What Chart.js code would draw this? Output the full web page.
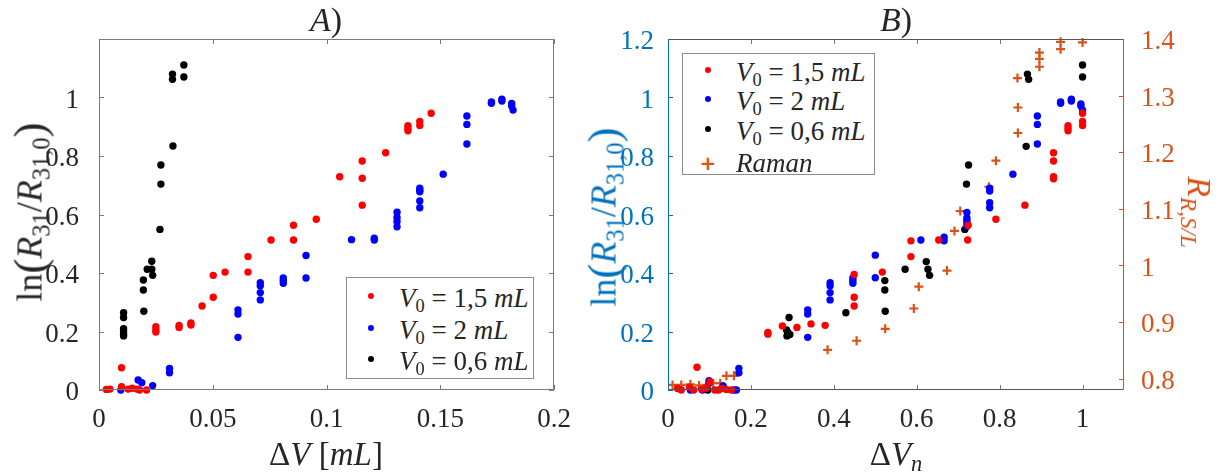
<!DOCTYPE html>
<html>
<head>
<meta charset="utf-8">
<script src="https://cdn.jsdelivr.net/npm/chart.js@4.4.1/dist/chart.umd.min.js"></script>
<style>
  html, body { margin: 0; padding: 0; background: #fff; }
  #wrap { position: relative; width: 1226px; height: 474px; overflow: hidden;
          font-family: 'Liberation Serif', serif; color: #262626; }
  canvas { position: absolute; top: 0; }
  .lbl { position: absolute; white-space: nowrap; line-height: 1; transform: translate(-50%, -50%); }
  .lbl.up { transform: translate(-50%, -50%) rotate(-90deg); }
  .lbl.down { transform: translate(-50%, -50%) rotate(90deg); }
  sub { font-size: 0.68em; vertical-align: -0.3em; line-height: 0; }
  .par { font-size: 1.25em; vertical-align: -0.06em; }
  .leg { position: absolute; border: 1px solid #8c8c8c; background: #fff; }
  .dot { position: absolute; width: 6px; height: 6px; border-radius: 50%; transform: translate(-50%, -50%); }
  .plus { position: absolute; color: #D95319; font: bold 20px 'DejaVu Sans', sans-serif; line-height: 1; transform: translate(-50%, -50%); }
  .lt { position: absolute; white-space: nowrap; font-size: 27px; line-height: 1; transform: translateY(-50%); }
</style>
</head>
<body>
<div id="wrap">
  <canvas id="chartA" width="600" height="474" style="left:0"></canvas>
  <canvas id="chartB" width="626" height="474" style="left:600px"></canvas>

  <div class="lbl" style="left:326px;top:20px;font-size:34px"><i>A</i>)</div>
  <div class="lbl" style="left:896px;top:20px;font-size:34px"><i>B</i>)</div>

  <div class="lbl up" style="left:30px;top:212px;font-size:36px">ln<span class="par">(</span><i>R</i><sub>31</sub>/<i>R</i><sub>31,0</sub><span class="par">)</span></div>
  <div class="lbl up" style="left:604px;top:217px;font-size:36px;color:#0072BD">ln<span class="par">(</span><i>R</i><sub>31</sub>/<i>R</i><sub>31,0</sub><span class="par">)</span></div>
  <div class="lbl down" style="left:1199px;top:212px;font-size:34px;color:#D95319"><i>R</i><sub><i>R,S/L</i></sub></div>

  <div class="lbl" style="left:326px;top:454px;font-size:33px">&Delta;<i>V</i> [<i>mL</i>]</div>
  <div class="lbl" style="left:896px;top:454px;font-size:33px">&Delta;<i>V</i><sub><i>n</i></sub></div>

  <div class="leg" style="left:346px;top:277px;width:186px;height:100px">
    <span class="dot" style="left:24px;top:18px;background:#ff0000"></span>
    <span class="lt" style="left:52px;top:20px"><i>V</i><sub>0</sub> = 1,5 <i>mL</i></span>
    <span class="dot" style="left:24px;top:50px;background:#0000ff"></span>
    <span class="lt" style="left:52px;top:52px"><i>V</i><sub>0</sub> = 2 <i>mL</i></span>
    <span class="dot" style="left:24px;top:81px;background:#000"></span>
    <span class="lt" style="left:52px;top:83px"><i>V</i><sub>0</sub> = 0,6 <i>mL</i></span>
  </div>

  <div class="leg" style="left:682px;top:53px;width:191px;height:120px">
    <span class="dot" style="left:25px;top:16px;background:#ff0000"></span>
    <span class="lt" style="left:53px;top:18px"><i>V</i><sub>0</sub> = 1,5 <i>mL</i></span>
    <span class="dot" style="left:25px;top:45px;background:#0000ff"></span>
    <span class="lt" style="left:53px;top:47px"><i>V</i><sub>0</sub> = 2 <i>mL</i></span>
    <span class="dot" style="left:25px;top:75px;background:#000"></span>
    <span class="lt" style="left:53px;top:77px"><i>V</i><sub>0</sub> = 0,6 <i>mL</i></span>
    <span class="plus" style="left:25px;top:109px">+</span>
    <span class="lt" style="left:53px;top:109px"><i>Raman</i></span>
  </div>
</div>

<script>
// ---- panel A: ln(R31/R31,0) vs dV [mL]
const A_RED_X = [0.0032,0.0048,0.0099,0.0099,0.0128,0.0146,0.0167,0.0178,0.0209,0.0250,0.0250,0.0250,0.0352,0.0352,0.0404,0.0404,0.0453,0.0502,0.0502,0.0554,0.0655,0.0655,0.0756,0.0855,0.0855,0.0955,0.1058,0.1157,0.1157,0.1157,0.1260,0.1358,0.1358,0.1358,0.1410,0.1410,0.1460];
const A_RED_Y = [0.002,0.003,0.076,0.011,0.003,0.006,0.003,0.000,0.000,0.216,0.205,0.198,0.221,0.214,0.229,0.222,0.287,0.317,0.392,0.403,0.456,0.403,0.513,0.563,0.513,0.584,0.729,0.783,0.724,0.632,0.811,0.904,0.895,0.886,0.918,0.904,0.946];
const A_BLUE_X = [0.0096,0.0172,0.0188,0.0236,0.0310,0.0310,0.0611,0.0611,0.0611,0.0709,0.0709,0.0709,0.0709,0.0810,0.0810,0.0810,0.0910,0.0910,0.1110,0.1210,0.1210,0.1310,0.1310,0.1310,0.1310,0.1410,0.1410,0.1410,0.1410,0.1410,0.1513,0.1617,0.1617,0.1617,0.1725,0.1725,0.1771,0.1771,0.1814,0.1814,0.1820];
const A_BLUE_Y = [0.000,0.034,0.025,0.015,0.074,0.059,0.274,0.260,0.180,0.367,0.356,0.333,0.308,0.383,0.374,0.365,0.460,0.383,0.514,0.519,0.513,0.608,0.590,0.576,0.558,0.690,0.682,0.678,0.646,0.623,0.738,0.937,0.908,0.841,0.985,0.980,0.994,0.988,0.980,0.971,0.957];
const A_BLACK_X = [0.0108,0.0108,0.0108,0.0108,0.0108,0.0108,0.0195,0.0195,0.0197,0.0212,0.0232,0.0232,0.0236,0.0268,0.0272,0.0272,0.0325,0.0323,0.0323,0.0373,0.0373];
const A_BLACK_Y = [0.264,0.248,0.210,0.200,0.190,0.185,0.376,0.342,0.269,0.413,0.440,0.413,0.392,0.549,0.704,0.769,0.834,1.080,1.062,1.111,1.070];
const A_X_TICKS = [0, 0.05, 0.1, 0.15, 0.2];
const A_Y_TICKS = [0, 0.2, 0.4, 0.6, 0.8, 1];

// ---- panel B: same vs normalised dV, Raman ratio on the right axis
const B_RED_X = [0.023,0.032,0.052,0.062,0.070,0.081,0.092,0.101,0.113,0.122,0.129,0.141,0.153,0.241,0.241,0.276,0.311,0.345,0.379,0.449,0.449,0.449,0.517,0.586,0.586,0.653,0.724,0.723,0.791,0.861,0.930,0.930,0.930,0.930,0.965,0.965,0.965,1.000,1.000,1.000];
const B_RED_Y = [0.005,0.000,0.010,0.000,0.078,0.003,0.006,0.028,0.000,0.000,0.005,0.002,0.000,0.197,0.191,0.219,0.214,0.226,0.221,0.395,0.317,0.287,0.403,0.510,0.456,0.513,0.563,0.513,0.584,0.632,0.811,0.783,0.729,0.722,0.904,0.895,0.886,0.946,0.918,0.904];
const B_BLUE_X = [0.054,0.083,0.099,0.099,0.133,0.159,0.165,0.171,0.171,0.337,0.337,0.337,0.391,0.391,0.391,0.391,0.446,0.446,0.446,0.500,0.500,0.610,0.666,0.666,0.721,0.721,0.721,0.721,0.721,0.776,0.776,0.776,0.776,0.832,0.891,0.891,0.891,0.947,0.947,0.973,0.973,0.996,0.996,1.000];
const B_BLUE_Y = [0.000,0.000,0.032,0.023,0.014,0.000,0.000,0.074,0.059,0.274,0.260,0.180,0.367,0.356,0.333,0.308,0.383,0.374,0.365,0.461,0.384,0.513,0.522,0.510,0.607,0.588,0.580,0.571,0.560,0.690,0.680,0.640,0.623,0.738,0.937,0.908,0.841,0.985,0.980,0.994,0.988,0.978,0.971,0.957];
const B_BLACK_X = [0.096,0.292,0.286,0.289,0.294,0.287,0.429,0.523,0.523,0.524,0.572,0.623,0.627,0.631,0.716,0.720,0.725,0.864,0.867,0.870,1.000,1.000];
const B_BLACK_Y = [0.000,0.248,0.205,0.197,0.190,0.185,0.264,0.374,0.342,0.269,0.413,0.439,0.413,0.392,0.549,0.704,0.769,0.833,1.080,1.062,1.111,1.070];
const B_RAMAN_X = [0.011,0.032,0.054,0.075,0.093,0.109,0.126,0.141,0.159,0.385,0.455,0.524,0.593,0.605,0.673,0.691,0.705,0.774,0.791,0.843,0.844,0.844,0.896,0.896,0.896,0.947,0.947,1.000];
const B_RAMAN_Y = [0.789,0.789,0.790,0.788,0.789,0.792,0.792,0.805,0.805,0.851,0.867,0.888,0.924,0.9625,0.991,1.061,1.096,1.139,1.185,1.331,1.279,1.234,1.376,1.365,1.351,1.395,1.382,1.394];
const B_X_TICKS = [0, 0.2, 0.4, 0.6, 0.8, 1];
const B_Y_TICKS = [0, 0.2, 0.4, 0.6, 0.8, 1, 1.2];
const B_YR_TICKS = [0.8, 0.9, 1, 1.1, 1.2, 1.3, 1.4];

const RED = '#ff0000', BLUE = '#0000ff', BLACK = '#000000', ORANGE = '#D95319', AXBLUE = '#0072BD';
const TXT = '#262626', EDGE = '#7a7a7a';

Chart.defaults.font.family = "'Liberation Serif', serif";
Chart.defaults.font.size = 27;
Chart.defaults.color = TXT;

const pts = (xs, ys) => xs.map((x, i) => ({ x, y: ys[i] }));

function dots(data, color) {
  return { data, backgroundColor: color, borderWidth: 0, pointRadius: 3.7, pointHoverRadius: 3.7, clip: false };
}

function fixedTicks(list) {
  return scale => { scale.ticks = list.map(v => ({ value: v })); };
}

// inside tick marks + axes box, MATLAB style
const framePlugin = {
  id: 'frame',
  afterDraw(chart, args, opts) {
    const { ctx, chartArea: a } = chart;
    const L = 5;
    ctx.save();
    ctx.lineWidth = 1;
    Object.values(chart.scales).forEach(s => {
      ctx.strokeStyle = (opts.tickColors || {})[s.id] || EDGE;
      ctx.beginPath();
      s.ticks.forEach(t => {
        const p = Math.round(s.getPixelForValue(t.value)) + 0.5;
        if (s.isHorizontal()) {
          ctx.moveTo(p, a.bottom); ctx.lineTo(p, a.bottom - L);
          ctx.moveTo(p, a.top); ctx.lineTo(p, a.top + L);
        } else if (s.position === 'left') {
          ctx.moveTo(a.left, p); ctx.lineTo(a.left + L, p);
          if (opts.mirrorY) { ctx.moveTo(a.right, p); ctx.lineTo(a.right - L, p); }
        } else {
          ctx.moveTo(a.right, p); ctx.lineTo(a.right - L, p);
        }
      });
      ctx.stroke();
    });
    const l = Math.round(a.left) + 0.5, r = Math.round(a.right) - 0.5;
    const t = Math.round(a.top) + 0.5, b = Math.round(a.bottom) - 0.5;
    const e = opts.edges;
    const seg = (c, x1, y1, x2, y2) => { ctx.strokeStyle = c; ctx.beginPath(); ctx.moveTo(x1, y1); ctx.lineTo(x2, y2); ctx.stroke(); };
    seg(e.top, l, t, r, t);
    seg(e.bottom, l, b, r, b);
    seg(e.left, l, t, l, b);
    seg(e.right, r, t, r, b);
    ctx.restore();
  }
};

function xAxis(min, max, ticks) {
  return {
    type: 'linear', position: 'bottom', min, max,
    grid: { display: false }, border: { display: false },
    afterBuildTicks: fixedTicks(ticks),
    afterFit: s => { s.height = 84; },
    ticks: { padding: 6, color: TXT, callback: v => String(v), maxRotation: 0, autoSkip: false }
  };
}

function yAxis(min, max, ticks, side, width, pad, color) {
  return {
    type: 'linear', position: side, min, max,
    grid: { display: false }, border: { display: false },
    afterBuildTicks: fixedTicks(ticks),
    afterFit: s => { s.width = width; },
    ticks: { padding: pad, color, labelOffset: 3, callback: v => String(v), autoSkip: false }
  };
}

const common = {
  responsive: false,
  animation: false,
  devicePixelRatio: 1,
  events: [],
  plugins: { legend: { display: false }, tooltip: { enabled: false } }
};

new Chart(document.getElementById('chartA'), {
  type: 'scatter',
  data: {
    datasets: [
      dots(pts(A_RED_X, A_RED_Y), RED),
      dots(pts(A_BLUE_X, A_BLUE_Y), BLUE),
      dots(pts(A_BLACK_X, A_BLACK_Y), BLACK)
    ]
  },
  options: {
    ...common,
    layout: { padding: { top: 39, right: 46, left: 0, bottom: 0 } },
    scales: {
      x: xAxis(0, 0.2, A_X_TICKS),
      y: yAxis(0, 1.2, A_Y_TICKS, 'left', 99, 12, TXT)
    },
    plugins: {
      ...common.plugins,
      frame: { mirrorY: true, edges: { top: EDGE, bottom: EDGE, left: EDGE, right: EDGE } }
    }
  },
  plugins: [framePlugin]
});

new Chart(document.getElementById('chartB'), {
  type: 'scatter',
  data: {
    datasets: [
      dots(pts(B_RED_X, B_RED_Y), RED),
      dots(pts(B_BLUE_X, B_BLUE_Y), BLUE),
      dots(pts(B_BLACK_X, B_BLACK_Y), BLACK),
      {
        data: pts(B_RAMAN_X, B_RAMAN_Y), yAxisID: 'yR', pointStyle: 'cross',
        pointRadius: 4.5, pointHoverRadius: 4.5, borderColor: ORANGE, borderWidth: 2.2, clip: false
      }
    ]
  },
  options: {
    ...common,
    layout: { padding: { top: 39, right: 0, left: 0, bottom: 0 } },
    scales: {
      x: xAxis(0, 1.1, B_X_TICKS),
      y: yAxis(0, 1.2, B_Y_TICKS, 'left', 68, 6, AXBLUE),
      yR: yAxis(0.78, 1.4, B_YR_TICKS, 'right', 102, 9, ORANGE)
    },
    plugins: {
      ...common.plugins,
      frame: {
        mirrorY: false,
        tickColors: { y: AXBLUE, yR: ORANGE },
        edges: { top: '#555', bottom: '#555', left: AXBLUE, right: ORANGE }
      }
    }
  },
  plugins: [framePlugin]
});
</script>
</body>
</html>
